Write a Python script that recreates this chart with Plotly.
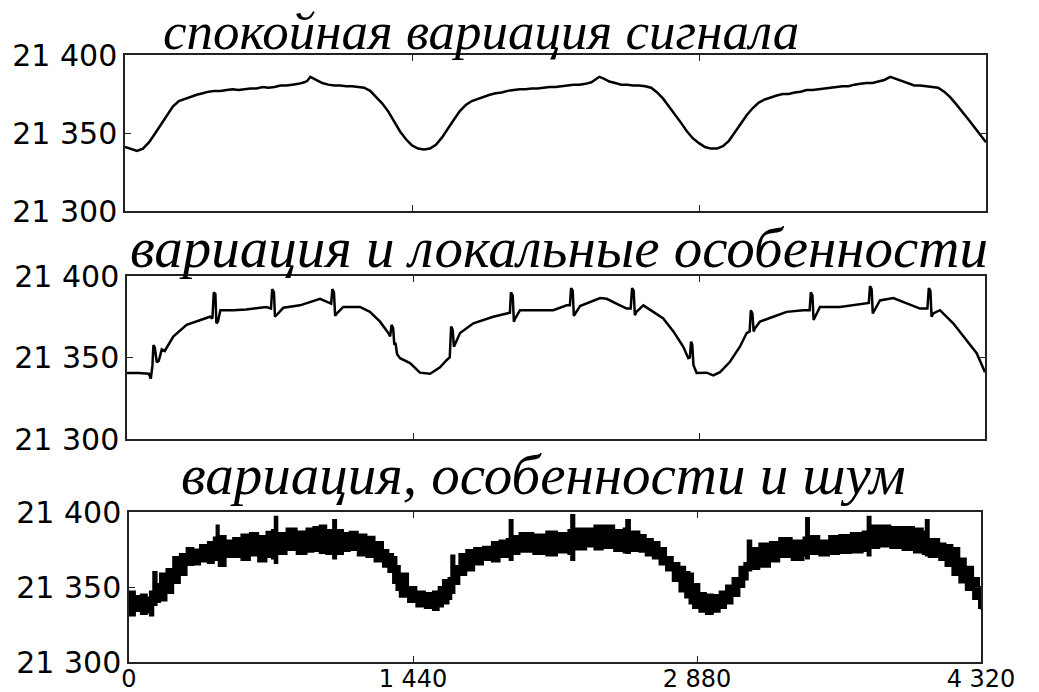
import plotly.graph_objects as go

# ---------------- data ----------------
x_ticks = [0, 1440, 2880, 4320]
x_tick_labels = ["0", "1 440", "2 880", "4 320"]
y_ticks = [21300, 21350, 21400]
y_tick_labels = ["21 300", "21 350", "21 400"]

titles = ["спокойная вариация сигнала",
          "вариация и локальные особенности",
          "вариация, особенности и шум"]

# panel 1: smooth variation
t1 = [0, 30, 60, 90, 120, 150, 180, 210, 240, 270, 300, 330, 360, 390, 420, 450, 480,
      510, 540, 570, 600, 630, 660, 690, 720, 750, 780, 810, 840, 870, 900, 915, 930,
      945, 960, 990, 1020, 1050, 1080, 1110, 1140, 1170, 1200, 1230, 1260, 1290, 1320,
      1350, 1380, 1410, 1440, 1470, 1500, 1530, 1560, 1590, 1620, 1650, 1680, 1710,
      1740, 1770, 1800, 1830, 1860, 1890, 1920, 1950, 1980, 2010, 2040, 2070, 2100,
      2130, 2160, 2190, 2220, 2250, 2280, 2310, 2340, 2360, 2380, 2400, 2430, 2460,
      2490, 2520, 2550, 2580, 2610, 2640, 2670, 2700, 2730, 2760, 2790, 2820, 2850,
      2880, 2910, 2940, 2970, 3000, 3030, 3060, 3090, 3120, 3150, 3180, 3210, 3240,
      3270, 3300, 3330, 3360, 3390, 3420, 3450, 3480, 3510, 3540, 3570, 3600, 3630,
      3660, 3690, 3720, 3750, 3780, 3810, 3840, 3870, 3900, 3930, 3960, 3990, 4020,
      4050, 4080, 4110, 4140, 4170, 4200, 4230, 4260, 4290, 4320]
v1 = [21341, 21339.5, 21338.5, 21340, 21344, 21349.5, 21355.5, 21361.5, 21367,
      21370.5, 21372, 21373.5, 21374.5, 21375.5, 21376.5, 21377, 21377, 21377.5,
      21378, 21377.5, 21378, 21378.5, 21378.5, 21379.5, 21379, 21379.5, 21380.5,
      21380.5, 21381, 21381.5, 21382.5, 21383.5, 21386, 21385, 21384.5, 21382, 21381,
      21380.5, 21380.5, 21380, 21380, 21379.5, 21379, 21377, 21373, 21369, 21364,
      21357.5, 21351, 21346, 21342, 21340, 21339.5, 21340, 21342.5, 21347, 21353,
      21358.5, 21364, 21368, 21370.5, 21372, 21373.5, 21374.5, 21375.5, 21376, 21377,
      21377.5, 21378, 21378, 21378.5, 21378.5, 21379, 21379.5, 21379.5, 21380,
      21380.5, 21381, 21381, 21381.5, 21382.5, 21384, 21386, 21385, 21383, 21382,
      21381, 21381, 21380.5, 21380.5, 21380, 21379, 21376, 21372, 21367, 21362,
      21356.5, 21351, 21346.5, 21343.5, 21341, 21340, 21340, 21341.5, 21345, 21350.5,
      21356, 21361.5, 21366, 21369.5, 21371.5, 21373, 21374, 21375, 21375, 21376,
      21376.5, 21377.5, 21377.5, 21378, 21378.5, 21379, 21379.5, 21380, 21380, 21381,
      21381.5, 21382, 21382, 21383, 21384, 21386, 21384.5, 21383, 21381.5, 21380.5,
      21380.5, 21380, 21379.5, 21379, 21376.5, 21373, 21368.5, 21364, 21359, 21354,
      21349, 21344]

# panel 2: variation with local features
t2 = [0, 60, 110, 120, 128, 133, 140, 150, 160, 175, 190, 233, 300, 368, 418, 430,
      437, 445, 450, 458, 470, 535, 600, 703, 725, 731, 740, 745, 752, 787, 871, 940,
      972, 1010, 1028, 1034, 1042, 1048, 1056, 1089, 1173, 1223, 1274, 1316, 1325,
      1332, 1340, 1346, 1352, 1360, 1375, 1425, 1475, 1526, 1576, 1610, 1625, 1632,
      1640, 1646, 1655, 1677, 1744, 1844, 1912, 1928, 1933, 1942, 1948, 1955, 1979,
      2146, 2214, 2230, 2236, 2244, 2250, 2258, 2281, 2382, 2415, 2482, 2516, 2536,
      2543, 2551, 2557, 2565, 2600, 2650, 2700, 2751, 2801, 2826, 2834, 2840, 2846,
      2852, 2868, 2919, 2952, 2986, 3036, 3086, 3120, 3135, 3141, 3149, 3155, 3162,
      3187, 3254, 3321, 3405, 3437, 3443, 3451, 3457, 3465, 3489, 3590, 3657, 3724,
      3735, 3741, 3749, 3755, 3763, 3791, 3858, 3926, 3993, 4030, 4037, 4045, 4051,
      4060, 4093, 4160, 4228, 4278, 4320]
v2 = [21340.5, 21340.5, 21340, 21337, 21345, 21357.7, 21356, 21347, 21348, 21355,
      21354, 21362.8, 21370, 21373, 21375, 21374, 21390, 21389, 21371, 21372, 21379,
      21379, 21379.5, 21381, 21380, 21392, 21390, 21375, 21376, 21380.5, 21382, 21385,
      21386, 21384, 21383, 21392, 21390, 21375.5, 21377, 21381, 21381, 21378, 21372,
      21365, 21363, 21370, 21368, 21357.7, 21359, 21352, 21349.6, 21346.6, 21340.7,
      21340, 21344, 21348.5, 21350, 21369, 21367, 21356.6, 21359, 21365, 21371, 21375,
      21377, 21377.5, 21390, 21388, 21372, 21374, 21379, 21379, 21382, 21382, 21392.6,
      21391, 21375.5, 21377, 21381.6, 21386.5, 21386, 21382, 21380, 21380, 21392.6,
      21391, 21376, 21378, 21382, 21378, 21374, 21366, 21356.6, 21349.6, 21350,
      21359.7, 21358, 21345.4, 21340.5, 21340.7, 21339, 21341, 21347.4, 21356.6,
      21365, 21366, 21379, 21377, 21366, 21368, 21372, 21375, 21378, 21379, 21379,
      21390, 21388, 21373, 21375, 21381, 21381, 21382, 21383.4, 21383.5, 21393.8,
      21392, 21377, 21379, 21385, 21386.5, 21383.4, 21380, 21380, 21392.6, 21391,
      21375, 21377, 21379, 21371, 21360.7, 21352.6, 21341]

# panel 3: variation, features and noise (upper / lower edge of noisy band)
t3 = [0, 30, 60, 90, 106, 123, 140, 157, 190, 224, 258, 292, 326, 360, 400, 430,
      444, 455, 490, 528, 570, 613, 655, 697, 725, 739, 752, 799, 850, 900, 935, 967,
      1000, 1035, 1050, 1085, 1119, 1160, 1204, 1245, 1288, 1315, 1339, 1356, 1373,
      1415, 1457, 1500, 1541, 1570, 1592, 1620, 1634, 1650, 1675, 1710, 1750, 1795,
      1840, 1879, 1915, 1930, 1945, 1980, 2050, 2116, 2170, 2228, 2242, 2258, 2318,
      2360, 2402, 2460, 2508, 2521, 2540, 2588, 2620, 2656, 2690, 2723, 2757, 2791,
      2820, 2842, 2860, 2892, 2925, 2960, 2995, 3027, 3060, 3095, 3120, 3137, 3155,
      3196, 3250, 3297, 3360, 3420, 3433, 3448, 3500, 3550, 3601, 3660, 3720, 3745,
      3760, 3804, 3860, 3922, 3980, 4025, 4040, 4055, 4108, 4140, 4175, 4210, 4243,
      4280, 4310, 4320]
v3_upper = [21347, 21344, 21345, 21343, 21347, 21360, 21352, 21359, 21362, 21370,
            21372, 21376, 21375, 21378, 21380, 21383, 21391, 21384, 21381, 21382.6,
            21385, 21386, 21384, 21386.9, 21388, 21396.9, 21386, 21389, 21387, 21389,
            21390, 21391, 21388, 21394.7, 21388, 21386, 21386.9, 21385, 21383.5, 21380,
            21374.7, 21372, 21370, 21364, 21359, 21350, 21347, 21346, 21347, 21350,
            21354.7, 21356, 21371, 21364, 21372, 21374.7, 21376, 21376.9, 21380, 21381,
            21382, 21394.7, 21384, 21386, 21385, 21387, 21386, 21388, 21398, 21389,
            21389, 21391, 21391, 21388, 21389, 21394.7, 21387, 21384.7, 21382, 21380,
            21376, 21370, 21366, 21363.5, 21360, 21359, 21352, 21346, 21345, 21344.7,
            21347, 21351, 21356, 21363.5, 21366, 21381, 21376, 21379, 21380, 21382.6,
            21381, 21383, 21396, 21384, 21381, 21384, 21384.7, 21386, 21387, 21396.9,
            21391, 21391, 21390, 21390, 21389, 21387, 21394.7, 21382, 21379, 21378,
            21376, 21369, 21363.5, 21356, 21350, 21348]
v3_lower = [21331, 21334, 21332, 21333, 21331, 21338, 21340, 21341, 21346, 21352.6,
            21358, 21364.6, 21365, 21367, 21366, 21368, 21368, 21364, 21370, 21370,
            21368, 21371, 21367, 21370, 21369, 21366, 21372, 21374.7, 21372, 21373.5,
            21374, 21372.6, 21372, 21369, 21372, 21374, 21374.7, 21371, 21370, 21367,
            21363.5, 21360, 21352.6, 21348, 21343.5, 21340, 21337, 21336, 21334.7,
            21337, 21339, 21342, 21346, 21352, 21358, 21361, 21365, 21368, 21367,
            21370, 21370, 21368, 21372, 21373.5, 21372, 21371, 21373, 21372, 21368,
            21375, 21377, 21375, 21376, 21374, 21373, 21372.6, 21374, 21373.5, 21371,
            21369, 21365, 21361, 21354, 21347, 21343, 21339, 21336, 21333.5, 21332,
            21333.5, 21336, 21339, 21344, 21350, 21355, 21361, 21362, 21363.5, 21367,
            21370, 21368, 21371, 21369, 21372, 21371, 21372, 21372.6, 21373, 21374,
            21371, 21376, 21377, 21376, 21374.7, 21373, 21372, 21371, 21370, 21368,
            21364, 21358, 21353, 21348, 21342, 21336, 21335]

# ---------------- figure ----------------
W, H = 1039, 692
LINE = "black"
fig = go.Figure()

fig.add_trace(go.Scatter(x=t1, y=v1, mode="lines", line=dict(color=LINE, width=2.5),
                         xaxis="x", yaxis="y", showlegend=False))
fig.add_trace(go.Scatter(x=t2, y=v2, mode="lines", line=dict(color=LINE, width=2.5),
                         xaxis="x2", yaxis="y2", showlegend=False))
fig.add_trace(go.Scatter(x=t3, y=v3_lower, mode="lines",
                         line=dict(color=LINE, width=2, shape="hv"),
                         xaxis="x3", yaxis="y3", showlegend=False))
fig.add_trace(go.Scatter(x=t3, y=v3_upper, mode="lines", fill="tonexty",
                         fillcolor=LINE, line=dict(color=LINE, width=2, shape="hv"),
                         xaxis="x3", yaxis="y3", showlegend=False))

# panel boxes in pixels: (left, right, top, bottom)
boxes = [(125, 986, 55, 211), (127, 985, 276, 439), (129, 981, 512, 662)]

ytickfont = dict(family="DejaVu Sans", size=30, color="black")
xtickfont = dict(family="DejaVu Sans", size=24, color="black")
axis_common = dict(showline=True, linecolor="#222", linewidth=1.5, mirror="ticks",
                   ticks="inside", ticklen=6, tickwidth=1.2, tickcolor="#222",
                   showgrid=False, zeroline=False, automargin=False)

for i, (l, r, t, b) in enumerate(boxes):
    sfx = "" if i == 0 else str(i + 1)
    xd = [l / W, r / W]
    yd = [1 - b / H, 1 - t / H]
    fig.layout["xaxis" + sfx] = dict(
        domain=xd, range=[0, 4320], anchor="y" + sfx, tickfont=xtickfont,
        tickvals=x_ticks, ticktext=x_tick_labels if i == 2 else [""] * len(x_ticks),
        ticklabelstandoff=-6, **axis_common)
    fig.layout["yaxis" + sfx] = dict(
        domain=yd, range=[21300, 21400], anchor="x" + sfx, tickfont=ytickfont,
        tickvals=y_ticks, ticktext=y_tick_labels, ticklabelstandoff=0,
        **axis_common)

# (center x px, baseline y px, font size)
title_pos = [(481, 48, 53), (559, 266, 57), (543, 493, 57)]
for txt, (cx, base, fs) in zip(titles, title_pos):
    fig.add_annotation(text=txt, x=cx / W, y=1 - (base + 0.25 * fs) / H,
                       xref="paper", yref="paper", xanchor="center",
                       yanchor="bottom", showarrow=False, borderpad=0,
                       font=dict(family="Times New Roman, Liberation Serif, serif",
                                 size=fs, color="black", style="italic"))

fig.update_layout(width=W, height=H, margin=dict(l=0, r=0, t=0, b=0),
                  paper_bgcolor="white", plot_bgcolor="white")

fig.write_html("out.html")
